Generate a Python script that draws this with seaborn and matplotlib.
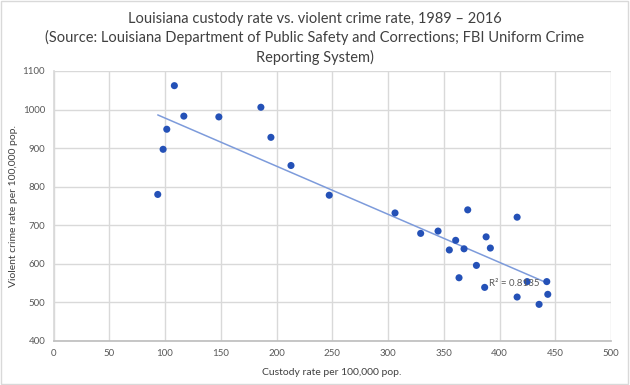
import numpy as np
import pandas as pd
import matplotlib
matplotlib.use("Agg")
import matplotlib.pyplot as plt
import seaborn as sns

# custody rate vs violent crime rate, Louisiana 1989-2016
custody = [93.5, 98.3, 101.6, 108.4, 116.9, 148.3, 186.0, 195.0, 213.0, 247.3,
           306.3, 371.5, 415.8, 329.3, 344.9, 360.7, 388.0, 355.0, 368.2, 391.8,
           379.3, 363.7, 386.7, 424.8, 442.4, 415.8, 443.3, 435.5]
violent = [780, 897, 949, 1062, 983, 981, 1006, 928, 855, 778,
           732, 740, 721, 679, 685, 661, 670, 636, 639, 641,
           596, 564, 539, 554, 554, 514, 521, 495]
r2_label = "R² = 0.8135"

df = pd.DataFrame({"custody": custody, "violent": violent})

sns.set_theme(style="whitegrid")
plt.rcParams["font.family"] = ["Lato", "DejaVu Sans"]

fig = plt.figure(figsize=(6.3, 3.85), dpi=100)
ax = fig.add_axes([53.5 / 630, 1 - 341 / 385, (611 - 53.5) / 630, (341 - 71) / 385])

sns.regplot(data=df, x="custody", y="violent", ax=ax, ci=None, truncate=True,
            scatter_kws=dict(s=26, color="#2451B7", edgecolor="none", alpha=1, zorder=3),
            line_kws=dict(color="#7D9BDB", linewidth=1.1, zorder=2))

ax.set_xlim(0, 500)
ax.set_ylim(400, 1100)
ax.set_xticks(range(0, 501, 50))
ax.set_yticks(range(400, 1101, 100))
ax.grid(True, color="#d9d9d9", linewidth=1)
for s in ["top", "right"]:
    ax.spines[s].set_visible(False)
ax.spines["left"].set_color("#d9d9d9")
ax.spines["bottom"].set_color("#bfbfbf")
ax.tick_params(axis="both", labelsize=7, colors="#595959", length=0, pad=6)

ax.set_xlabel("Custody rate per 100,000 pop.", fontsize=7.5, color="#404040")
ax.set_ylabel("Violent crime rate per 100,000 pop.", fontsize=7.5, color="#404040")
ax.xaxis.set_label_coords(0.5, -0.1)
ax.yaxis.set_label_coords(-0.064, 0.5)

ax.text(436, 548, r2_label, fontsize=7, color="#595959", ha="right", va="center", zorder=4)

fig.suptitle("Louisiana custody rate vs. violent crime rate, 1989 – 2016\n"
             "(Source: Louisiana Department of Public Safety and Corrections; FBI Uniform Crime\n"
             "Reporting System)",
             x=0.5, y=0.97, fontsize=10.5, color="#404040", linespacing=1.4)

# outer chart border
fig.patches.append(plt.Rectangle((0.001, 0.003), 0.996, 0.994, transform=fig.transFigure,
                                 fill=False, edgecolor="#d9d9d9", linewidth=1))

fig.savefig("out.png", dpi=100)
